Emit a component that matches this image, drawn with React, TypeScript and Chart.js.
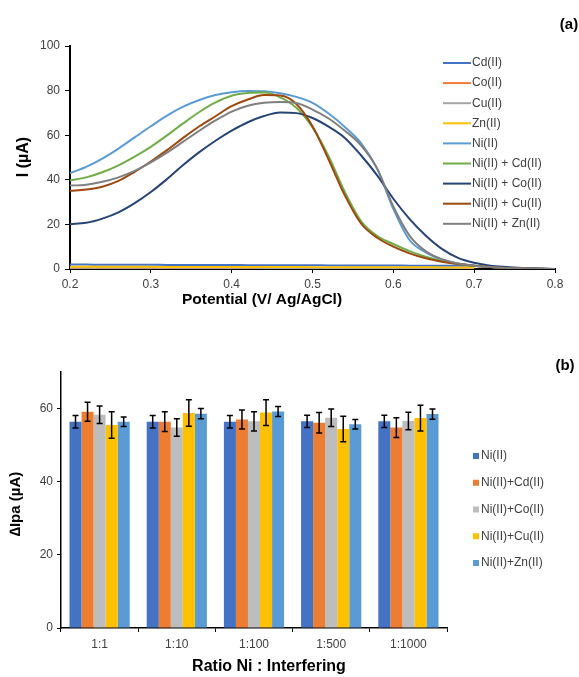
import React, { useEffect, useRef } from "react";
import { Chart, registerables } from "chart.js";

Chart.register(...registerables);

const FONT = '"Liberation Sans", Arial, sans-serif';

// ---------- Panel (a): voltammograms ----------
const potentials = [
  0.2, 0.22, 0.24, 0.26, 0.28, 0.3, 0.32, 0.34, 0.36, 0.38, 0.4, 0.42, 0.44, 0.46, 0.48, 0.5,
  0.52, 0.54, 0.56, 0.58, 0.6, 0.62, 0.64, 0.66, 0.68, 0.7, 0.72, 0.74, 0.76, 0.78, 0.8,
];

const cdII = [2.0, 2.0, 1.9, 1.9, 1.9, 1.9, 1.8, 1.8, 1.8, 1.8, 1.8, 1.7, 1.7, 1.7, 1.7, 1.7, 1.6, 1.6, 1.6, 1.6, 1.6, 1.5, 1.5, 1.5, 1.5, 1.5];
const coII = [0.3, 0.3, 0.3, 0.3, 0.3, 0.3, 0.3, 0.3, 0.3, 0.3, 0.2, 0.2, 0.2, 0.2, 0.2, 0.2, 0.2, 0.2, 0.2, 0.2, 0.2, 0.2, 0.2, 0.2, 0.2, 0.2];
const cuII = [0.6, 0.6, 0.6, 0.6, 0.6, 0.6, 0.6, 0.6, 0.6, 0.6, 0.6, 0.6, 0.5, 0.5, 0.5, 0.5, 0.5, 0.5, 0.5, 0.5, 0.5, 0.5, 0.5, 0.5, 0.5, 0.5];
const znII = [1.0, 1.0, 1.0, 1.0, 1.0, 1.0, 0.9, 0.9, 0.9, 0.9, 0.9, 0.9, 0.9, 0.9, 0.9, 0.8, 0.8, 0.8, 0.8, 0.8, 0.8, 0.8, 0.8, 0.7, 0.7, 0.7];
const niII = [43.0, 45.8, 49.5, 54.0, 59.0, 64.0, 68.8, 72.8, 75.8, 78.0, 79.3, 79.8, 79.7, 78.8, 77.2, 74.5, 69.7, 63.7, 56.5, 45.0, 27.0, 13.0, 7.5, 4.2, 2.5, 1.5, 0.9, 0.5, 0.3, 0.1, 0.0];
const niCd = [39.7, 41.1, 43.4, 46.5, 50.4, 54.8, 59.9, 65.3, 70.4, 74.7, 77.7, 78.9, 79.1, 77.0, 72.3, 63.5, 50.5, 34.5, 21.5, 14.8, 11.2, 8.0, 5.5, 3.6, 2.2, 1.5, 0.9, 0.5, 0.3, 0.1, 0.0];
const niCo = [20.1, 20.7, 22.6, 25.4, 29.5, 34.5, 40.3, 46.6, 52.4, 57.5, 62.0, 65.8, 68.6, 70.2, 69.9, 67.7, 63.8, 58.8, 51.0, 42.0, 31.5, 22.5, 15.0, 9.0, 5.0, 2.8, 1.5, 0.9, 0.5, 0.2, 0.0];
const niCu = [35.1, 35.6, 36.9, 39.5, 43.6, 48.2, 53.3, 58.8, 64.0, 68.5, 73.0, 76.0, 78.0, 77.8, 74.0, 64.0, 49.0, 33.0, 20.4, 14.0, 10.0, 7.0, 4.8, 3.3, 2.2, 1.5, 0.9, 0.5, 0.3, 0.1, 0.0];
const niZn = [37.4, 37.8, 39.1, 41.1, 44.0, 47.8, 52.2, 57.1, 62.0, 66.6, 70.6, 73.2, 74.5, 74.9, 74.4, 71.5, 67.5, 62.0, 55.5, 45.0, 28.0, 15.0, 8.0, 4.4, 2.5, 1.5, 0.9, 0.5, 0.3, 0.1, 0.0];

const lineLabels = ["Cd(II)", "Co(II)", "Cu(II)", "Zn(II)", "Ni(II)", "Ni(II) + Cd(II)", "Ni(II) + Co(II)", "Ni(II) + Cu(II)", "Ni(II) + Zn(II)"];
const lineValues = [cdII, coII, cuII, znII, niII, niCd, niCo, niCu, niZn];
const lineColors = ["#4472C4", "#ED7D31", "#A5A5A5", "#FFC000", "#5B9BD5", "#70AD47", "#264478", "#9E480E", "#7F7F7F"];
const xTicksA = [0.2, 0.3, 0.4, 0.5, 0.6, 0.7, 0.8];
const yTicksA = [0, 20, 40, 60, 80, 100];

// ---------- Panel (b): interference bars ----------
const ratios = ["1:1", "1:10", "1:100", "1:500", "1:1000"];
const barLabels = ["Ni(II)", "Ni(II)+Cd(II)", "Ni(II)+Co(II)", "Ni(II)+Cu(II)", "Ni(II)+Zn(II)"];
const barNi = [56.4, 56.4, 56.4, 56.5, 56.5];
const barNiCd = [59.1, 56.4, 57.0, 56.1, 54.8];
const barNiCo = [58.3, 54.8, 56.5, 57.5, 56.6];
const barNiCu = [55.5, 58.8, 58.9, 54.4, 57.4];
const barNiZn = [56.4, 58.6, 59.2, 55.7, 58.5];
const errNi = [1.7, 1.7, 1.7, 1.7, 1.7];
const errNiCd = [2.6, 2.7, 2.6, 2.8, 2.7];
const errNiCo = [2.4, 2.4, 2.6, 2.4, 2.4];
const errNiCu = [3.6, 3.6, 3.5, 3.5, 3.5];
const errNiZn = [1.3, 1.4, 1.4, 1.3, 1.4];
const barValues = [barNi, barNiCd, barNiCo, barNiCu, barNiZn];
const barErrors = [errNi, errNiCd, errNiCo, errNiCu, errNiZn];
const barColors = ["#4472C4", "#ED7D31", "#BDBDBD", "#FFC000", "#5B9BD5"];
const yTicksB = [0, 20, 40, 60];

const TICK_COLOR = "#404040";

function drawText(ctx: CanvasRenderingContext2D, text: string, x: number, y: number, font: string, rotate = false, color = "#000") {
  ctx.save();
  ctx.font = font;
  ctx.fillStyle = color;
  ctx.textAlign = "center";
  ctx.textBaseline = "middle";
  ctx.translate(x, y);
  if (rotate) ctx.rotate(-Math.PI / 2);
  ctx.fillText(text, 0, 0);
  ctx.restore();
}

export default function App() {
  const refA = useRef<HTMLCanvasElement>(null);
  const refB = useRef<HTMLCanvasElement>(null);

  useEffect(() => {
    Chart.defaults.font.family = FONT;
    const N = lineValues.length;

    const decorA = {
      id: "decorA",
      afterDraw(chart: any) {
        const ctx = chart.ctx as CanvasRenderingContext2D;
        drawText(ctx, "I (µA)", 24, 157, `bold 16px ${FONT}`, true);
        drawText(ctx, "Potential (V/ Ag/AgCl)", 262, 300, `bold 15.5px ${FONT}`);
        drawText(ctx, "(a)", 569, 25, `bold 15px ${FONT}`);
        chart.data.datasets.forEach((ds: any, i: number) => {
          const y = 63 + i * 20.1;
          ctx.save();
          ctx.strokeStyle = ds.borderColor;
          ctx.lineWidth = 2;
          ctx.beginPath();
          ctx.moveTo(443, y);
          ctx.lineTo(471, y);
          ctx.stroke();
          ctx.font = `12px ${FONT}`;
          ctx.fillStyle = TICK_COLOR;
          ctx.textAlign = "left";
          ctx.textBaseline = "middle";
          ctx.fillText(ds.label, 472, y);
          ctx.restore();
        });
      },
    };

    const chartA = new Chart(refA.current!, {
      type: "line",
      data: {
        datasets: lineValues.map((vals, i) => ({
          label: lineLabels[i],
          data: vals.map((v, j) => ({ x: potentials[j], y: v })),
          borderColor: lineColors[i],
          backgroundColor: lineColors[i],
          borderWidth: 2,
          pointRadius: 0,
          tension: 0.4,
          cubicInterpolationMode: "monotone",
          fill: false,
          order: N - i,
        })),
      },
      options: {
        responsive: false,
        animation: false,
        layout: { padding: { top: 46, right: 24, left: 0, bottom: 0 } },
        plugins: { legend: { display: false }, tooltip: { enabled: false } },
        scales: {
          x: {
            type: "linear",
            min: 0.2,
            max: 0.8,
            afterBuildTicks: (s: any) => {
              s.ticks = xTicksA.map((v) => ({ value: v }));
            },
            ticks: { callback: (v: any) => Number(v).toFixed(1), color: TICK_COLOR, font: { size: 12 }, padding: 4, maxRotation: 0 },
            grid: { display: true, drawOnChartArea: false, drawTicks: true, tickLength: 4, color: "#000", lineWidth: 1 },
            border: { display: true, color: "#000", width: 2 },
            afterFit: (s: any) => {
              s.height = 49;
            },
          },
          y: {
            min: 0,
            max: 100,
            afterBuildTicks: (s: any) => {
              s.ticks = yTicksA.map((v) => ({ value: v }));
            },
            ticks: { color: TICK_COLOR, font: { size: 12 }, padding: 5 },
            grid: { display: true, drawOnChartArea: false, drawTicks: true, tickLength: 5, color: "#000", lineWidth: 1 },
            border: { display: true, color: "#000", width: 2 },
            afterFit: (s: any) => {
              s.width = 70;
            },
          },
        },
      },
      plugins: [decorA],
    } as any);

    const decorB = {
      id: "decorB",
      afterDatasetsDraw(chart: any) {
        const ctx = chart.ctx as CanvasRenderingContext2D;
        const yScale = chart.scales.y;
        ctx.save();
        ctx.strokeStyle = "#000";
        ctx.lineWidth = 1.5;
        chart.data.datasets.forEach((ds: any, i: number) => {
          const meta = chart.getDatasetMeta(i);
          meta.data.forEach((bar: any, j: number) => {
            const v = barValues[i][j];
            const e = barErrors[i][j];
            const yt = yScale.getPixelForValue(v + e);
            const yb = yScale.getPixelForValue(v - e);
            const x = bar.x;
            ctx.beginPath();
            ctx.moveTo(x, yt);
            ctx.lineTo(x, yb);
            ctx.moveTo(x - 3, yt);
            ctx.lineTo(x + 3, yt);
            ctx.moveTo(x - 3, yb);
            ctx.lineTo(x + 3, yb);
            ctx.stroke();
          });
        });
        ctx.restore();
      },
      afterDraw(chart: any) {
        const ctx = chart.ctx as CanvasRenderingContext2D;
        drawText(ctx, "\u2206Ipa (µA)", 16, 184, `bold 15px ${FONT}`, true);
        drawText(ctx, "Ratio Ni : Interfering", 269, 347, `bold 16px ${FONT}`);
        drawText(ctx, "(b)", 565, 46, `bold 15px ${FONT}`);
        chart.data.datasets.forEach((ds: any, i: number) => {
          const y = 136 + i * 26.75;
          ctx.save();
          ctx.fillStyle = ds.backgroundColor;
          ctx.fillRect(473, y - 3, 6, 6);
          ctx.font = `12px ${FONT}`;
          ctx.fillStyle = TICK_COLOR;
          ctx.textAlign = "left";
          ctx.textBaseline = "middle";
          ctx.fillText(ds.label, 481, y);
          ctx.restore();
        });
      },
    };

    const chartB = new Chart(refB.current!, {
      type: "bar",
      data: {
        labels: ratios,
        datasets: barValues.map((vals, i) => ({
          label: barLabels[i],
          data: vals,
          backgroundColor: barColors[i],
          borderWidth: 0,
          categoryPercentage: 0.78,
          barPercentage: 1.0,
        })),
      },
      options: {
        responsive: false,
        animation: false,
        layout: { padding: { top: 52, right: 132, left: 0, bottom: 0 } },
        plugins: { legend: { display: false }, tooltip: { enabled: false } },
        scales: {
          x: {
            ticks: { color: TICK_COLOR, font: { size: 12 }, padding: 5, maxRotation: 0 },
            grid: { display: true, offset: true, drawOnChartArea: false, drawTicks: true, tickLength: 4, color: "#000", lineWidth: 1 },
            border: { display: true, color: "#000", width: 1.5 },
            afterFit: (s: any) => {
              s.height = 49;
            },
          },
          y: {
            min: 0,
            max: 70,
            bounds: "data",
            afterBuildTicks: (s: any) => {
              s.ticks = yTicksB.map((v) => ({ value: v }));
            },
            ticks: { color: TICK_COLOR, font: { size: 12 }, padding: 4 },
            grid: { display: true, drawOnChartArea: false, drawTicks: true, tickLength: 4, color: "#000", lineWidth: 1 },
            border: { display: true, color: "#000", width: 1.5 },
            afterFit: (s: any) => {
              s.width = 61;
            },
          },
        },
      },
      plugins: [decorB],
    } as any);

    return () => {
      chartA.destroy();
      chartB.destroy();
    };
  }, []);

  return (
    <div style={{ position: "absolute", left: 0, top: 0, width: 579, height: 677, background: "#fff" }}>
      <canvas ref={refA} width={579} height={318} style={{ position: "absolute", left: 0, top: 0, width: 579, height: 318 }} />
      <canvas ref={refB} width={579} height={357} style={{ position: "absolute", left: 0, top: 320, width: 579, height: 357 }} />
    </div>
  );
}
